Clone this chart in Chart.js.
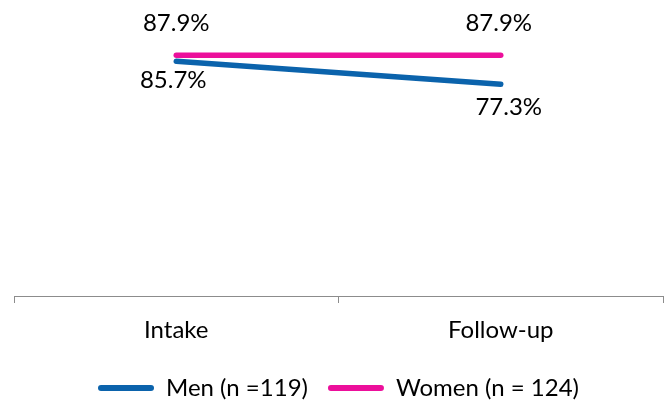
<!DOCTYPE html>
<html>
<head>
<meta charset="utf-8">
<script src="https://cdn.jsdelivr.net/npm/chart.js@4/dist/chart.umd.min.js"></script>
<style>
  html, body { margin: 0; padding: 0; background: #fff; }
  #wrap { width: 665px; height: 401px; }
</style>
</head>
<body>
<div id="wrap"><canvas id="c"></canvas></div>
<script>
const categories = ['Intake', 'Follow-up'];
const seriesNames = ['Men (n =119)', 'Women (n = 124)'];
const menValues = [85.7, 77.3];
const womenValues = [87.9, 87.9];

const FONT = 'Lato, "Open Sans", sans-serif';

// Draws each point's value as a percentage next to its marker
const valueLabels = {
  id: 'valueLabels',
  afterDatasetsDraw(chart) {
    const ctx = chart.ctx;
    ctx.save();
    ctx.font = '24px ' + FONT;
    ctx.fillStyle = '#000';
    ctx.textAlign = 'center';
    ctx.textBaseline = 'middle';
    chart.data.datasets.forEach((ds, i) => {
      const meta = chart.getDatasetMeta(i);
      const off = ds.labelOffset;
      meta.data.forEach((pt, j) => {
        const o = off[j];
        ctx.fillText(ds.data[j].toFixed(1) + '%', pt.x + o[0], pt.y + o[1]);
      });
    });
    ctx.restore();
  }
};

new Chart(document.getElementById('c'), {
  type: 'line',
  data: {
    labels: categories,
    datasets: [
      {
        label: seriesNames[0],
        data: menValues,
        borderColor: '#0B63AC',
        backgroundColor: '#0B63AC',
        borderWidth: 5.5,
        borderCapStyle: 'round',
        pointRadius: 0,
        labelOffset: [[-3, 19], [8, 23]]
      },
      {
        label: seriesNames[1],
        data: womenValues,
        borderColor: '#EC0F9B',
        backgroundColor: '#EC0F9B',
        borderWidth: 5.5,
        borderCapStyle: 'round',
        pointRadius: 0,
        labelOffset: [[0, -32], [-2, -32]]
      }
    ]
  },
  options: {
    responsive: true,
    maintainAspectRatio: false,
    animation: false,
    layout: { padding: { left: 14, right: 2, top: 22, bottom: -9 } },
    scales: {
      x: {
        offset: true,
        grid: {
          offset: true,
          drawOnChartArea: false,
          drawTicks: true,
          tickLength: 7,
          color: '#8c8c8c',
          lineWidth: 1
        },
        border: { display: true, color: '#8c8c8c', width: 1 },
        ticks: {
          color: '#000',
          font: { family: FONT, size: 24 },
          padding: 13
        },
        afterFit(scale) { scale.height = 60; }
      },
      y: {
        display: false,
        min: 0,
        max: 100
      }
    },
    plugins: {
      legend: {
        position: 'bottom',
        labels: {
          color: '#000',
          font: { family: FONT, size: 24 },
          boxWidth: 56,
          boxHeight: 6,
          padding: 20,
          useBorderRadius: true,
          borderRadius: 3,
          // legend swatches as thin solid bars, no outline
          generateLabels(chart) {
            const items = Chart.defaults.plugins.legend.labels.generateLabels(chart);
            items.forEach(it => { it.lineWidth = 0; });
            return items;
          }
        }
      },
      tooltip: { enabled: false }
    }
  },
  plugins: [valueLabels]
});
</script>
</body>
</html>
